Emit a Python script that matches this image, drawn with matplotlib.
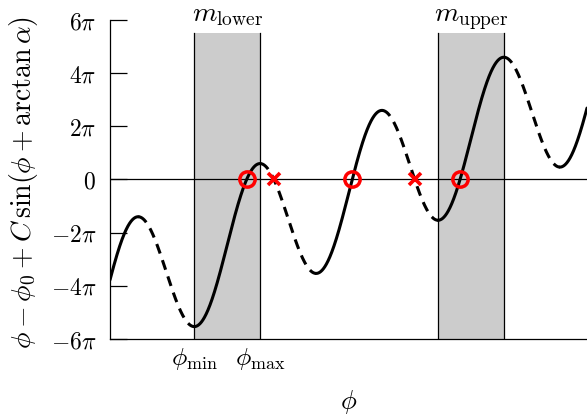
import numpy as np
import matplotlib
matplotlib.use("Agg")
import matplotlib.pyplot as plt

plt.rcParams['mathtext.fontset'] = 'cm'
plt.rcParams['font.family'] = 'serif'
plt.rcParams['font.serif'] = ['DejaVu Serif']

# Parameters of the plotted function f(phi) = phi - phi0 + C sin(phi + arctan(alpha))
C = 8.0
phi0 = 7.75
alpha = 0.0
phi_range = [-6.04, 18.55]
y_ticks = [-6, -4, -2, 0, 2, 4, 6]          # multiples of pi
y_tick_labels = [r'$-6\pi$', r'$-4\pi$', r'$-2\pi$', r'$0$', r'$2\pi$', r'$4\pi$', r'$6\pi$']
band_labels = [r'$m_{\mathrm{lower}}$', r'$m_{\mathrm{upper}}$']
band_cycles = [0, 2]                        # which rising branch is shaded
x_tick_labels = [r'$\phi_{\min}$', r'$\phi_{\max}$']

delta = np.arctan(alpha)

def f(p):
    return p - phi0 + C * np.sin(p + delta)

fig = plt.figure(figsize=(5.87, 4.15), dpi=100)
ax = fig.add_axes([110/587, 1 - 339/415, 1 - 110/587, (339 - 20)/415])

ymin, ymax = -6*np.pi, 6*np.pi
ax.set_xlim(*phi_range)
ax.set_ylim(ymin, ymax)

# extrema of the rising branch
th = np.arccos(-1.0 / C)
pmin0 = -th - delta
pmax0 = th - delta

# shaded bands
for lab, k in zip(band_labels, band_cycles):
    a = pmin0 + 2*np.pi*k
    b = pmax0 + 2*np.pi*k
    ax.fill_between([a, b], ymin, 5.5*np.pi, color='#cccccc', lw=0, zorder=1)
    for xv in (a, b):
        ax.plot([xv, xv], [ymin, 5.5*np.pi], color='black', lw=0.9, zorder=2)
    ax.text((a+b)/2, 5.95*np.pi, lab, ha='center', va='baseline', fontsize=20, clip_on=False)

ax.axhline(0, color='black', lw=0.9, zorder=2)

# curve: solid where rising, dashed where falling
p = np.linspace(phi_range[0], phi_range[1], 4000)
y = f(p)
d = 1 + C*np.cos(p + delta)
rising = d > 0
edges = np.flatnonzero(np.diff(rising.astype(int))) + 1
starts = np.concatenate([[0], edges])
ends = np.concatenate([edges, [len(p)]])
for s, e in zip(starts, ends):
    e2 = min(e + 1, len(p))
    if rising[s]:
        ax.plot(p[s:e2], y[s:e2], color='black', lw=2.2, solid_capstyle='round', zorder=3)
    else:
        ax.plot(p[s:e2], y[s:e2], color='black', lw=2.2, dashes=(3.3, 2.3), zorder=3)

# zeros
sgn = np.sign(y)
idx = np.flatnonzero(sgn[:-1] * sgn[1:] < 0)
for i in idx:
    x0 = p[i] - y[i] * (p[i+1] - p[i]) / (y[i+1] - y[i])
    if y[i+1] > y[i]:
        ax.plot(x0, 0, 'o', ms=11, mfc='none', mec='red', mew=2.5, zorder=4)
    else:
        ax.plot(x0, 0, 'x', ms=8, mec='red', mew=2.6, zorder=4)

ax.set_yticks([t*np.pi for t in y_ticks])
ax.set_yticklabels(y_tick_labels, fontsize=17)
ax.set_xticks([pmin0, pmax0])
ax.set_xticklabels(x_tick_labels, fontsize=18.5)
ax.tick_params(axis='y', direction='in', length=12, width=0.9, pad=10)
ax.tick_params(axis='x', length=0, pad=5)

for s in ('top', 'right'):
    ax.spines[s].set_visible(False)
for s in ('left', 'bottom'):
    ax.spines[s].set_linewidth(0.9)

ax.set_ylabel(r'$\phi - \phi_0 + C\,\sin(\phi + \arctan\alpha)$', fontsize=20)
ax.yaxis.set_label_coords(-0.147, 0.49)
ax.set_xlabel(r'$\phi$', fontsize=19)
ax.xaxis.set_label_coords(0.5, -0.155)

fig.savefig('out.png', dpi=100)
